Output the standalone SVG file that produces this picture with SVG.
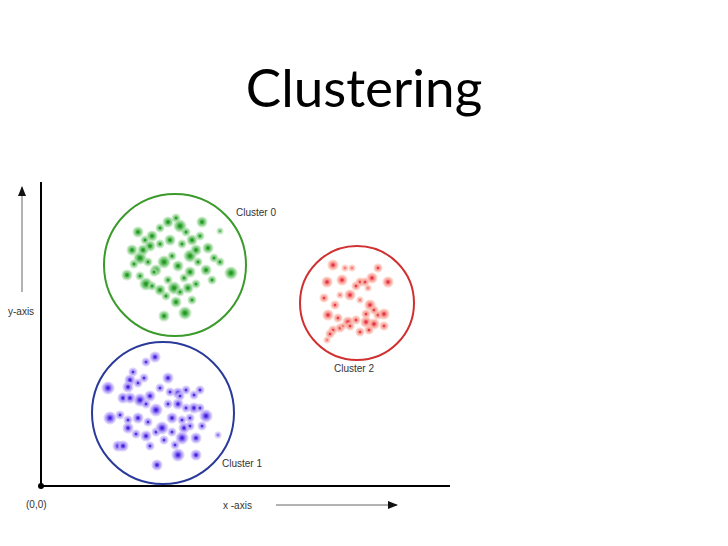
<svg xmlns="http://www.w3.org/2000/svg" width="728" height="546" viewBox="0 0 728 546">
<defs>
<radialGradient id="gg"><stop offset="0" stop-color="#1f8f1f"/><stop offset="0.3" stop-color="#2f9f2f"/><stop offset="0.55" stop-color="#5cbc5c"/><stop offset="1" stop-color="#8cd08c"/></radialGradient>
<radialGradient id="gb"><stop offset="0" stop-color="#2a10c8"/><stop offset="0.3" stop-color="#5a38e8"/><stop offset="0.55" stop-color="#8a6ef2"/><stop offset="1" stop-color="#b4a2f8"/></radialGradient>
<radialGradient id="gr"><stop offset="0" stop-color="#d81830"/><stop offset="0.3" stop-color="#ee4858"/><stop offset="0.55" stop-color="#f47c80"/><stop offset="1" stop-color="#f8a8a0"/></radialGradient>
<marker id="ah" markerWidth="10" markerHeight="8" refX="9" refY="4" orient="auto" markerUnits="userSpaceOnUse"><path d="M0,0 L10,4 L0,8 Z" fill="#111"/></marker>
</defs>
<style>
.lbl{font-family:"Liberation Sans",Arial,sans-serif;font-size:10px;fill:#333}
.g circle{fill:url(#gg);stroke:#9ed89e;stroke-opacity:.55;stroke-width:3}
.b circle{fill:url(#gb);stroke:#c2b2fa;stroke-opacity:.6;stroke-width:3}
.r circle{fill:url(#gr);stroke:#fbb8a8;stroke-opacity:.6;stroke-width:3}
</style>
<rect width="728" height="546" fill="#fff"/>
<text x="364" y="107" text-anchor="middle" font-family="Lato,'Liberation Sans',sans-serif" font-size="53" fill="#000">Clustering</text>
<g id="axes">
<line x1="41" y1="182" x2="41" y2="486" stroke="#000" stroke-width="2"/>
<line x1="41" y1="486" x2="450" y2="486" stroke="#000" stroke-width="2"/>
<circle cx="41" cy="486" r="3" fill="#000"/>
<line x1="22" y1="292" x2="22" y2="187" stroke="#666" stroke-width="1" marker-end="url(#ah)"/>
<line x1="276" y1="505" x2="397" y2="505" stroke="#666" stroke-width="1" marker-end="url(#ah)"/>
<text class="lbl" x="8" y="315">y-axis</text>
<text class="lbl" x="26" y="508">(0,0)</text>
<text class="lbl" x="223" y="509">x -axis</text>
</g>
<g id="cluster0">
<circle cx="175" cy="265" r="71" fill="none" stroke="#3a9a2a" stroke-width="2"/>
<text class="lbl" x="236" y="216">Cluster 0</text>
<g class="g">
<circle cx="138" cy="232" r="4"/><circle cx="145" cy="240" r="3"/><circle cx="152" cy="236" r="4"/><circle cx="160" cy="228" r="3"/><circle cx="168" cy="222" r="4"/><circle cx="176" cy="218" r="3"/><circle cx="180" cy="226" r="5"/><circle cx="186" cy="232" r="3"/><circle cx="192" cy="240" r="4"/><circle cx="200" cy="236" r="3"/><circle cx="208" cy="248" r="4"/><circle cx="214" cy="258" r="3"/><circle cx="220" cy="262" r="3"/><circle cx="231" cy="273" r="5"/><circle cx="132" cy="250" r="4"/><circle cx="140" cy="258" r="5"/><circle cx="148" cy="262" r="3"/><circle cx="156" cy="270" r="4"/><circle cx="164" cy="262" r="5"/><circle cx="172" cy="256" r="3"/><circle cx="178" cy="266" r="4"/><circle cx="184" cy="278" r="3"/><circle cx="190" cy="272" r="4"/><circle cx="198" cy="262" r="3"/><circle cx="206" cy="270" r="4"/><circle cx="212" cy="280" r="3"/><circle cx="127" cy="275" r="4"/><circle cx="140" cy="276" r="3"/><circle cx="146" cy="284" r="5"/><circle cx="152" cy="286" r="3"/><circle cx="160" cy="290" r="4"/><circle cx="168" cy="280" r="3"/><circle cx="174" cy="288" r="5"/><circle cx="180" cy="292" r="3"/><circle cx="188" cy="288" r="4"/><circle cx="196" cy="284" r="3"/><circle cx="176" cy="302" r="4"/><circle cx="166" cy="296" r="3"/><circle cx="185" cy="313" r="5"/><circle cx="164" cy="316" r="4"/><circle cx="154" cy="272" r="3"/><circle cx="170" cy="240" r="4"/><circle cx="190" cy="256" r="5"/><circle cx="202" cy="222" r="4"/><circle cx="220" cy="231" r="2"/><circle cx="134" cy="264" r="3"/><circle cx="150" cy="246" r="4"/><circle cx="182" cy="244" r="3"/><circle cx="196" cy="250" r="4"/><circle cx="160" cy="244" r="3"/><circle cx="143" cy="250" r="4"/><circle cx="192" cy="300" r="3"/>
</g>
</g>
<g id="cluster1">
<circle cx="163" cy="413" r="71" fill="none" stroke="#2a3a9a" stroke-width="2"/>
<text class="lbl" x="222" y="467">Cluster 1</text>
<g class="b">
<circle cx="155" cy="357" r="4"/><circle cx="146" cy="362" r="3"/><circle cx="133" cy="372" r="3"/><circle cx="130" cy="380" r="4"/><circle cx="138" cy="383" r="3"/><circle cx="144" cy="378" r="3"/><circle cx="128" cy="387" r="4"/><circle cx="108" cy="388" r="5"/><circle cx="123" cy="398" r="4"/><circle cx="130" cy="398" r="4"/><circle cx="140" cy="400" r="5"/><circle cx="150" cy="396" r="4"/><circle cx="160" cy="388" r="3"/><circle cx="168" cy="378" r="4"/><circle cx="170" cy="392" r="3"/><circle cx="178" cy="393" r="4"/><circle cx="186" cy="390" r="3"/><circle cx="194" cy="395" r="3"/><circle cx="200" cy="390" r="3"/><circle cx="178" cy="404" r="4"/><circle cx="186" cy="408" r="3"/><circle cx="194" cy="408" r="4"/><circle cx="200" cy="408" r="3"/><circle cx="110" cy="418" r="5"/><circle cx="120" cy="415" r="3"/><circle cx="128" cy="420" r="3"/><circle cx="138" cy="418" r="4"/><circle cx="148" cy="422" r="3"/><circle cx="156" cy="410" r="5"/><circle cx="146" cy="404" r="3"/><circle cx="172" cy="418" r="4"/><circle cx="182" cy="420" r="3"/><circle cx="184" cy="428" r="4"/><circle cx="190" cy="418" r="3"/><circle cx="206" cy="416" r="5"/><circle cx="128" cy="428" r="4"/><circle cx="136" cy="434" r="3"/><circle cx="146" cy="436" r="4"/><circle cx="156" cy="432" r="3"/><circle cx="162" cy="428" r="5"/><circle cx="164" cy="440" r="3"/><circle cx="172" cy="432" r="3"/><circle cx="182" cy="438" r="5"/><circle cx="196" cy="438" r="4"/><circle cx="218" cy="435" r="2"/><circle cx="118" cy="446" r="4"/><circle cx="123" cy="446" r="4"/><circle cx="150" cy="446" r="3"/><circle cx="175" cy="445" r="3"/><circle cx="178" cy="455" r="5"/><circle cx="196" cy="455" r="4"/><circle cx="157" cy="465" r="4"/><circle cx="190" cy="426" r="3"/><circle cx="202" cy="426" r="3"/><circle cx="180" cy="396" r="3"/><circle cx="168" cy="404" r="3"/>
</g>
</g>
<g id="cluster2">
<circle cx="357" cy="303" r="57" fill="none" stroke="#d03030" stroke-width="2"/>
<text class="lbl" x="334" y="372">Cluster 2</text>
<g class="r">
<circle cx="333" cy="265" r="4"/><circle cx="345" cy="268" r="2"/><circle cx="352" cy="268" r="2"/><circle cx="378" cy="268" r="3"/><circle cx="372" cy="278" r="4"/><circle cx="360" cy="282" r="3"/><circle cx="365" cy="282" r="3"/><circle cx="342" cy="280" r="4"/><circle cx="327" cy="282" r="4"/><circle cx="356" cy="286" r="3"/><circle cx="388" cy="282" r="4"/><circle cx="350" cy="295" r="4"/><circle cx="324" cy="298" r="3"/><circle cx="340" cy="295" r="2"/><circle cx="360" cy="300" r="2"/><circle cx="368" cy="288" r="2"/><circle cx="370" cy="305" r="4"/><circle cx="378" cy="315" r="3"/><circle cx="374" cy="310" r="3"/><circle cx="384" cy="314" r="4"/><circle cx="335" cy="305" r="3"/><circle cx="328" cy="315" r="4"/><circle cx="338" cy="318" r="3"/><circle cx="348" cy="322" r="4"/><circle cx="356" cy="320" r="3"/><circle cx="366" cy="322" r="4"/><circle cx="374" cy="324" r="4"/><circle cx="384" cy="326" r="3"/><circle cx="333" cy="330" r="3"/><circle cx="340" cy="328" r="3"/><circle cx="350" cy="326" r="3"/><circle cx="360" cy="332" r="3"/><circle cx="343" cy="326" r="2"/><circle cx="330" cy="334" r="3"/><circle cx="327" cy="340" r="2"/><circle cx="369" cy="330" r="3"/><circle cx="366" cy="314" r="3"/>
</g>
</g>
</svg>
